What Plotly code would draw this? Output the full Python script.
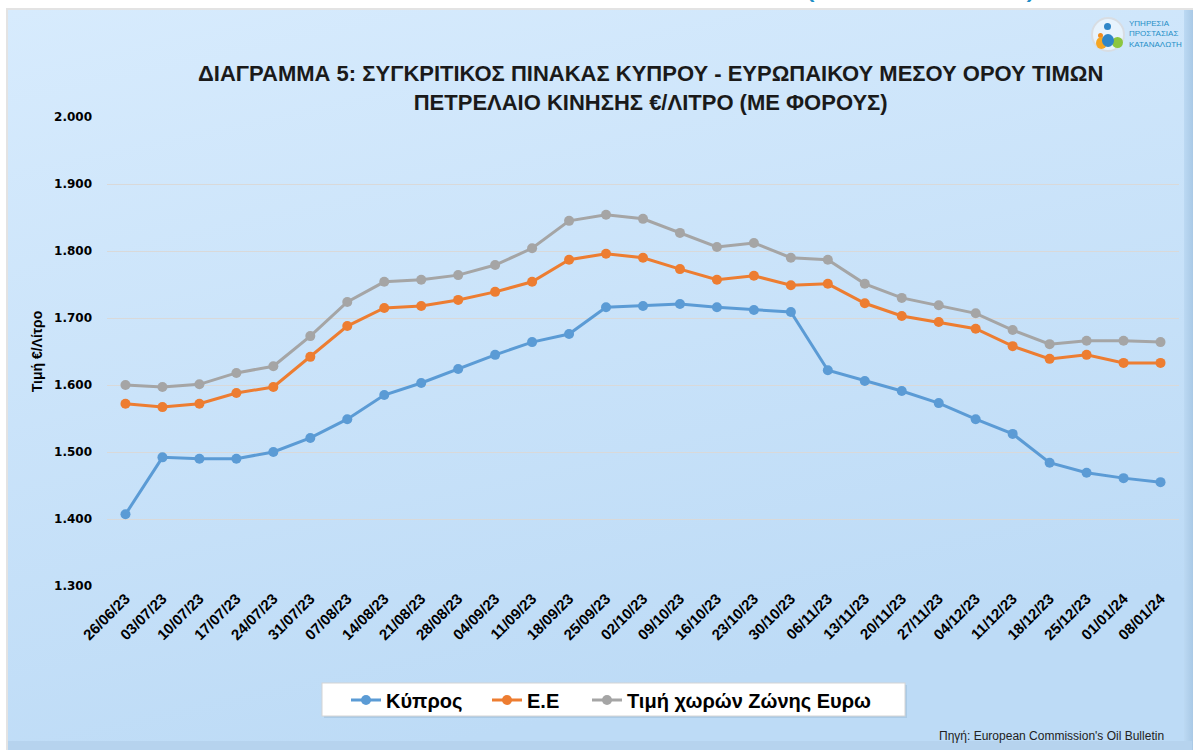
import plotly.graph_objects as go
import base64

dates = ["26/06/23","03/07/23","10/07/23","17/07/23","24/07/23","31/07/23","07/08/23","14/08/23",
         "21/08/23","28/08/23","04/09/23","11/09/23","18/09/23","25/09/23","02/10/23","09/10/23",
         "16/10/23","23/10/23","30/10/23","06/11/23","13/11/23","20/11/23","27/11/23","04/12/23",
         "11/12/23","18/12/23","25/12/23","01/01/24","08/01/24"]

cyprus = [1.407,1.492,1.490,1.490,1.500,1.521,1.549,1.585,1.603,1.624,1.645,1.664,1.676,1.716,
          1.718,1.721,1.716,1.712,1.709,1.622,1.606,1.591,1.573,1.549,1.527,1.484,1.469,1.461,1.455]
eu = [1.572,1.567,1.572,1.588,1.597,1.642,1.688,1.715,1.718,1.727,1.739,1.754,1.787,1.796,
      1.790,1.773,1.757,1.763,1.749,1.751,1.722,1.703,1.694,1.684,1.658,1.639,1.645,1.633,1.633]
euro_zone = [1.600,1.597,1.601,1.618,1.628,1.673,1.724,1.754,1.757,1.764,1.779,1.804,1.845,1.854,
             1.848,1.827,1.806,1.812,1.790,1.787,1.751,1.730,1.719,1.707,1.682,1.661,1.666,1.666,1.664]

series_names = ["Κύπρος", "Ε.Ε", "Τιμή χωρών Ζώνης Ευρω"]
y_ticks = [1.3, 1.4, 1.5, 1.6, 1.7, 1.8, 1.9, 2.0]
y_tick_text = ["1.300", "1.400", "1.500", "1.600", "1.700", "1.800", "1.900", "2.000"]

FW, FH = 1198, 750
L, R, T, B = 107, 19, 117, 164
PW = FW - L - R
PH = FH - T - B

def px(x):
    return (x - L) / PW

def py(y):
    return (FH - B - y) / PH

svg = f'''<svg xmlns="http://www.w3.org/2000/svg" width="{FW}" height="{FH}" viewBox="0 0 {FW} {FH}">
<defs>
<linearGradient id="g" x1="0" y1="0" x2="0.35" y2="1">
<stop offset="0" stop-color="#d7ebfd"/>
<stop offset="1" stop-color="#bddbf6"/>
</linearGradient>
<linearGradient id="r" x1="0" y1="0" x2="1" y2="0">
<stop offset="0" stop-color="#bcd9f3"/>
<stop offset="1" stop-color="#a9c9e6"/>
</linearGradient>
</defs>
<rect x="0" y="0" width="{FW}" height="{FH}" fill="#ffffff"/>
<rect x="6" y="8" width="1187" height="742" fill="#e3e3e3"/>
<rect x="8" y="10" width="1184" height="740" fill="url(#g)"/>
<rect x="1184" y="10" width="9" height="740" fill="url(#r)"/>
<rect x="8" y="741" width="1184" height="9" fill="#b6d3ee"/>
<rect x="324" y="685" width="583" height="33" fill="#9fbfdc" opacity="0.6"/>
<rect x="322" y="683" width="583" height="33" fill="#ffffff" stroke="#d4d4d4" stroke-width="1"/>
</svg>'''
svg_uri = "data:image/svg+xml;base64," + base64.b64encode(svg.encode()).decode()

fig = go.Figure()
colors = ["#5b9bd5", "#ed7d31", "#a5a5a5"]
legend_ids = ["legend", "legend2", "legend3"]
for name, vals, col, lg in zip(series_names, [cyprus, eu, euro_zone], colors, legend_ids):
    fig.add_trace(go.Scatter(
        x=dates, y=vals, name=name, mode="lines+markers",
        line=dict(color=col, width=3),
        marker=dict(color=col, size=10),
        legend=lg,
    ))

legend_font = dict(family="Liberation Sans, sans-serif", size=20, color="black", weight="bold")
def mk_legend(xs):
    return dict(orientation="h", x=px(xs), y=py(700), xanchor="left", yanchor="middle",
                bgcolor="rgba(0,0,0,0)", borderwidth=0, font=legend_font)

fig.update_layout(
    width=FW, height=FH,
    margin=dict(l=L, r=R, t=T, b=B, autoexpand=False),
    paper_bgcolor="white",
    plot_bgcolor="rgba(0,0,0,0)",
    showlegend=True,
    legend=mk_legend(346),
    legend2=mk_legend(487),
    legend3=mk_legend(587),
    images=[dict(
        source=svg_uri, xref="paper", yref="paper",
        x=px(0), y=py(0), sizex=FW / PW, sizey=FH / PH,
        xanchor="left", yanchor="top", sizing="stretch", layer="below",
    )],
    xaxis=dict(
        type="category", range=[-0.5, len(dates) - 0.5],
        showgrid=False, zeroline=False, showline=False,
        tickangle=-45, ticks="",
        tickfont=dict(family="Liberation Sans, sans-serif", size=15, color="black", weight="bold"),
    ),
    yaxis=dict(
        range=[1.3, 2.0], tickvals=y_ticks, ticktext=y_tick_text,
        showgrid=True, gridcolor="#d9d9d9", gridwidth=1, zeroline=False, showline=False,
        ticks="", ticklabelstandoff=14,
        tickfont=dict(family="DejaVu Sans, sans-serif", size=12, color="black", weight="bold"),
        title=dict(text="Τιμή €/Λίτρο", standoff=8,
                   font=dict(family="Liberation Sans, sans-serif", size=14, color="black", weight="bold")),
    ),
    annotations=[
        dict(text="<b>ΔΙΑΓΡΑΜΜΑ 5: ΣΥΓΚΡΙΤΙΚΟΣ ΠΙΝΑΚΑΣ ΚΥΠΡΟΥ - ΕΥΡΩΠΑΙΚΟΥ ΜΕΣΟΥ ΟΡΟΥ ΤΙΜΩΝ<br>ΠΕΤΡΕΛΑΙΟ ΚΙΝΗΣΗΣ €/ΛΙΤΡΟ (ΜΕ ΦΟΡΟΥΣ)</b>",
             xref="paper", yref="paper", x=px(650), y=py(88), xanchor="center", yanchor="middle",
             showarrow=False, align="center",
             font=dict(family="Liberation Sans, sans-serif", size=22, color="#1a1a1a")),
        dict(text="Πηγή: European Commission's Oil Bulletin",
             xref="paper", yref="paper", x=px(1166), y=py(736), xanchor="right", yanchor="middle",
             showarrow=False,
             font=dict(family="Liberation Sans, sans-serif", size=12, color="#222222")),
        dict(text="(ΜΕ ΦΟΡΟΥΣ)",
             xref="paper", yref="paper", x=px(920), y=py(4), xanchor="center", yanchor="bottom",
             showarrow=False,
             font=dict(family="Liberation Sans, sans-serif", size=35, color="#1f8fc7")),
        dict(text="ΥΠΗΡΕΣΙΑ<br>ΠΡΟΣΤΑΣΙΑΣ<br>ΚΑΤΑΝΑΛΩΤΗ",
             xref="paper", yref="paper", x=px(1127), y=py(34), xanchor="left", yanchor="middle",
             showarrow=False, align="left",
             font=dict(family="Liberation Sans, sans-serif", size=8, color="#1f8fc7")),
    ],
    shapes=[
        dict(type="circle", xref="paper", yref="paper", x0=px(1092), x1=px(1124), y0=py(51), y1=py(18),
             line=dict(color="#d8dde3", width=2), fillcolor="rgba(255,255,255,0.5)"),
        dict(type="circle", xref="paper", yref="paper", x0=px(1104), x1=px(1111), y0=py(30), y1=py(23),
             line=dict(width=0), fillcolor="#2f86c8"),
        dict(type="circle", xref="paper", yref="paper", x0=px(1098), x1=px(1103), y0=py(38), y1=py(33),
             line=dict(width=0), fillcolor="#f28c1c"),
        dict(type="circle", xref="paper", yref="paper", x0=px(1096), x1=px(1107), y0=py(49), y1=py(37),
             line=dict(width=0), fillcolor="#f5a623"),
        dict(type="circle", xref="paper", yref="paper", x0=px(1112), x1=px(1123), y0=py(48), y1=py(37),
             line=dict(width=0), fillcolor="#8cc63f"),
        dict(type="circle", xref="paper", yref="paper", x0=px(1102), x1=px(1114), y0=py(47), y1=py(34),
             line=dict(width=0), fillcolor="#2f86c8"),
    ],
)

fig.write_html("out.html", config={"displayModeBar": False},
               post_script="document.body.style.margin='0';")
